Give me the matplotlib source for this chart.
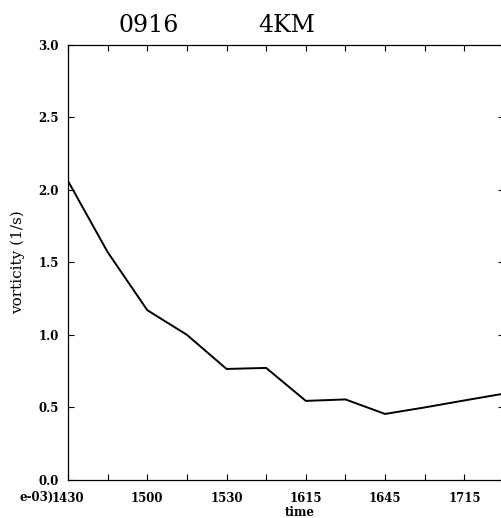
import matplotlib
matplotlib.use('Agg')
import matplotlib.pyplot as plt

# vorticity time series, 0916 case at 4 km (values x1e-03, 1/s)
time_min = [0, 15, 30, 45, 60, 75, 90, 105, 120, 135, 150, 165]
vort = [2.06, 1.57, 1.17, 1.00, 0.765, 0.772, 0.545, 0.555, 0.455, 0.50, 0.548, 0.595]

xtick_pos = [0, 15, 30, 45, 60, 75, 90, 105, 120, 135, 150, 165]
xtick_lab = ['1430', '', '1500', '', '1530', '', '1615', '', '1645', '', '1715', '']
ytick_pos = [0.0, 0.5, 1.0, 1.5, 2.0, 2.5, 3.0]

W, H = 501, 518
fig = plt.figure(figsize=(W / 100, H / 100), dpi=100)
ax = fig.add_axes([68 / W, 38 / H, 436 / W, 435.5 / H])

ax.plot(time_min, vort, color='black', lw=1.4, solid_joinstyle='miter')

ax.set_xlim(0, 165)
ax.set_ylim(0, 3.0)
ax.set_xticks(xtick_pos)
ax.set_xticklabels(xtick_lab)
ax.set_yticks(ytick_pos)
ax.set_yticklabels(['%.1f' % v for v in ytick_pos])

for s in ax.spines.values():
    s.set_linewidth(0.9)

tfont = dict(family='DejaVu Serif', weight='bold', size=8.5)
ax.tick_params(axis='both', direction='in', length=4, width=0.8,
               top=True, right=True)
ax.tick_params(axis='x', pad=9)
ax.tick_params(axis='y', pad=6.5)
for lab in ax.get_xticklabels() + ax.get_yticklabels():
    lab.set_fontfamily('DejaVu Serif')
    lab.set_fontweight('bold')
    lab.set_fontsize(8.5)

ax.set_ylabel('vorticity (1/s)', fontfamily='DejaVu Serif', fontsize=11)
ax.yaxis.set_label_coords(-(68 - 25) / 436, 0.5)

fig.text(300 / W, 1 - 513 / H, 'time', ha='center', va='center', **tfont)
fig.text(54 / W, 1 - 497 / H, 'e-03)', ha='right', va='center', **tfont)

fig.text(149 / W, 1 - 25 / H, '0916', ha='center', va='center',
         family='DejaVu Serif', size=17)
fig.text(287 / W, 1 - 25 / H, '4KM', ha='center', va='center',
         family='DejaVu Serif', size=17)

fig.savefig('out.png', dpi=100)
